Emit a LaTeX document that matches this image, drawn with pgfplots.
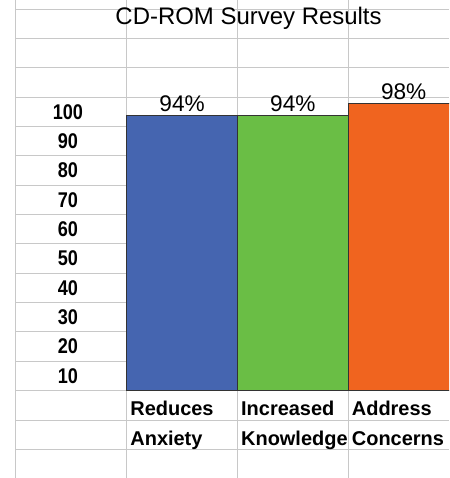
\documentclass[border=0pt]{standalone}
\usepackage{pgfplots}
\pgfplotsset{compat=1.18}
\usepackage{fontspec}
\setmainfont{Liberation Sans}
\newfontfamily\narrowfont[FakeStretch=0.85]{Liberation Sans}
\definecolor{barblue}{RGB}{69,101,176}
\definecolor{bargreen}{RGB}{106,190,69}
\definecolor{barorange}{RGB}{240,100,31}
\definecolor{gridgray}{RGB}{200,200,200}
\begin{document}
\begin{tikzpicture}
\begin{axis}[
  scale only axis, width=325.5pt, height=358.5pt,
  xmin=-1.5, xmax=2.41, ymin=-29.6, ymax=133,
  axis line style={draw=none},
  major tick length=0pt, minor tick length=0pt,
  /pgf/number format/assume math mode=true,
  xtick={0,1,2}, xticklabels={Reduces,Increased,Address},
  xticklabel style={font={\bfseries\fontsize{15}{15}\selectfont}, anchor=base west, xshift=-42.4pt, yshift=46.5pt},
  extra x ticks={0,1,2}, extra x tick labels={Anxiety,Knowledge,Concerns},
  extra x tick style={xticklabel style={yshift=-22.5pt}},
  minor xtick={-1.5,-0.5,0.5,1.5},
  ytick={5,15,...,95}, yticklabels={10,20,30,40,50,60,70,80,90,100},
  yticklabel style={font={\narrowfont\bfseries\fontsize{16}{16}\selectfont}, anchor=center, xshift=39pt},
  minor ytick={-20,-10,...,130},
  xminorgrids, yminorgrids,
  minor grid style={gridgray, line width=0.75pt},
  every node near coord/.append style={font={\fontsize{17}{17}\selectfont}, yshift=-1pt},
  nodes near coords={\pgfmathprintnumber{\pgfplotspointmeta}\%},
]
\addplot[ybar, bar width=1, bar shift=0pt, fill=barblue, draw=black!80, line width=0.6pt] coordinates {(0,94)};
\addplot[ybar, bar width=1, bar shift=0pt, fill=bargreen, draw=black!80, line width=0.6pt] coordinates {(1,94)};
\addplot[ybar, bar width=1, bar shift=0pt, fill=barorange, draw=black!80, line width=0.6pt] coordinates {(2,98)};
\node[font={\fontsize{18}{18}\selectfont}] at (axis cs:0.6,126.9) {CD-ROM Survey Results};
\end{axis}
\path ([xshift=-12pt]current axis.south west);
\end{tikzpicture}
\end{document}
